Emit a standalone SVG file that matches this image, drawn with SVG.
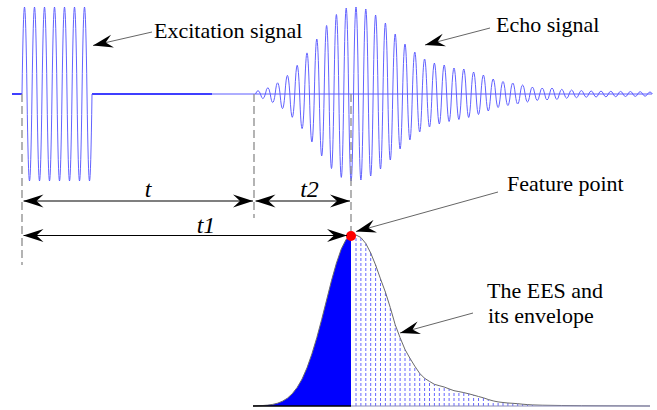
<svg xmlns="http://www.w3.org/2000/svg" width="657" height="410" viewBox="0 0 657 410">
<style>
.lbl{font-size:22px;fill:#000}
.ital{font-size:24px;font-style:italic;fill:#000}
.wave{fill:none;stroke:#5a5aff;stroke-width:0.95}
.base{fill:none;stroke:#0000ff;stroke-width:1.6}
.baselt{fill:none;stroke:#5c5cff;stroke-width:1}
.guide{fill:none;stroke:#8c8c8c;stroke-width:1.3;stroke-dasharray:8 4}
.dim{fill:none;stroke:#000;stroke-width:1.2;marker-start:url(#ah);marker-end:url(#ah)}
.ann{fill:none;stroke:#666;stroke-width:1;marker-end:url(#ah)}
.stem{fill:none;stroke:#6666ff;stroke-width:1;stroke-dasharray:3 2}
</style>
<defs>
<marker id="ah" viewBox="0 0 20 14" refX="20" refY="7" markerWidth="20" markerHeight="14" markerUnits="userSpaceOnUse" orient="auto-start-reverse">
<path d="M20 7L0 0.5L7 7L0 13.5Z" fill="#000"/>
</marker>
</defs>
<rect width="657" height="410" fill="#fff"/>

<g id="excitation-signal">
<path class="base" d="M12 94H22M92 94H212"/>
<path class="wave" d="M22 94q2.5 -174 5 0t5 0t5 0t5 0t5 0t5 0t5 0t5 0t5 0t5 0t5 0t5 0t5 0t5 0"/>
</g>

<g id="echo-signal">
<path class="baselt" d="M212 94H652"/>
<path class="wave" d="M255.55 94q2.45 -6.6 4.9 0q2.45 9.2 4.9 0q2.45 -12.6 4.9 0q2.45 17 4.9 0q2.45 -22.4 4.9 0q2.45 29.2 4.9 0q2.45 -37.2 4.9 0q2.45 46.6 4.9 0q2.45 -57.4 4.9 0q2.45 69.2 4.9 0q2.45 -82.2 4.9 0q2.45 96 4.9 0q2.45 -110 4.9 0q2.45 123.8 4.9 0q2.45 -137 4.9 0q2.45 149 4.9 0q2.45 -159 4.9 0q2.45 166.8 4.9 0q2.45 -171.8 4.9 0q2.45 174 4.9 0q2.45 -174 4.9 0q2.45 172 4.9 0q2.45 -170 4.9 0q2.45 164 4.9 0q2.45 -158 4.9 0q2.45 150 4.9 0q2.45 -142 4.9 0q2.45 132 4.9 0q2.45 -120 4.9 0q2.45 110 4.9 0q2.45 -100 4.9 0q2.45 92 4.9 0q2.45 -84 4.9 0q2.45 76 4.9 0q2.45 -70 4.9 0q2.45 66 4.9 0q2.45 -62 4.9 0q2.45 60 4.9 0q2.45 -58 4.9 0q2.45 55 4.9 0q2.45 -52 4.9 0q2.45 51 4.9 0q2.45 -50 4.9 0q2.45 47 4.9 0q2.45 -44 4.9 0q2.45 41 4.9 0q2.45 -38 4.9 0q2.45 34 4.9 0q2.45 -30 4.9 0q2.45 27 4.9 0q2.45 -25 4.9 0q2.45 23 4.9 0q2.45 -22 4.9 0q2.45 20 4.9 0q2.45 -18 4.9 0q2.45 16 4.9 0q2.45 -14 4.9 0q2.45 13 4.9 0q2.45 -12 4.9 0q2.45 12 4.9 0q2.45 -12 4.9 0q2.45 11 4.9 0q2.45 -9.4 4.9 0q2.45 8.6 4.9 0q2.45 -8 4.9 0q2.45 7.4 4.9 0q2.45 -6.8 4.9 0q2.45 6.4 4.9 0q2.45 -6 4.9 0q2.45 6 4.9 0q2.45 -5.8 4.9 0q2.45 5.6 4.9 0q2.45 -5.4 4.9 0q2.45 5.4 4.9 0q2.45 -5.2 4.9 0q2.45 5 4.9 0q2.45 -5 4.9 0q2.45 4.8 4.9 0q2.45 -4.6 4.9 0q2.45 4.4 4.9 0q2.45 -4 4.9 0"/>
</g>

<g id="ees-envelope">
<path class="stem" d="M356 406V235M360.9 406V237.5M365.8 406V243.5M370.7 406V253M375.6 406V265M380.5 406V278.9M385.4 406V292.1M390.3 406V307.6M395.2 406V324.7M400.1 406V337.7M405 406V349.5M409.9 406V358.2M414.8 406V366.2M419.7 406V373.4M424.6 406V378.3M429.5 406V381.4M434.4 406V384.3M439.3 406V385.7M444.2 406V387M449.1 406V388.9M454 406V390.7M458.9 406V391.3M463.8 406V391.9M468.7 406V393.5M473.6 406V395.1M478.5 406V396.5M483.4 406V397.8M488.3 406V399.5M493.2 406V400.9M498.1 406V401.9M503 406V402.5M507.9 406V403M512.8 406V403.3M517.7 406V403.7M522.6 406V404.2M527.5 406V404.6M532.4 406V404.9"/>
<path d="M253 406L258 405.75L262.9 405.5L267.8 405.1L272.7 404.4L277.6 403.2L282.5 401.2L287.4 398.2L292.3 393.7L297.2 387.4L302.1 379L307 367.8L311.9 353.9L316.8 337.7L321.7 319.4L326.6 300L331.5 280.6L336.4 263.2L341.3 248.9L346.2 239.3L351 235.2L351 406Z" fill="#0000ff"/>
<path d="M253 406L258 405.75L262.9 405.5L267.8 405.1L272.7 404.4L277.6 403.2L282.5 401.2L287.4 398.2L292.3 393.7L297.2 387.4L302.1 379L307 367.8L311.9 353.9L316.8 337.7L321.7 319.4L326.6 300L331.5 280.6L336.4 263.2L341.3 248.9L346.2 239.3L351 235.2L356 235L360.9 237.5L365.8 243.5L370.7 253L375.6 265L380.5 278.9L385.4 292.1L390.3 307.6L395.2 324.7L400.1 337.7L405 349.5L409.9 358.2L414.8 366.2L419.7 373.4L424.6 378.3L429.5 381.4L434.4 384.3L439.3 385.7L444.2 387L449.1 388.9L454 390.7L458.9 391.6L463.8 392.6L468.7 393.8L473.6 395.1L478.5 396.5L483.4 397.8L488.3 399.5L493.2 400.9L498.1 401.9L503 402.5L507.9 403L512.8 403.3L517.7 403.7L522.6 404.2L527.5 404.6L532.4 404.9L542.2 405.2L561.8 405.5L581.4 405.7L601 405.8L650 406" fill="none" stroke="#6a6a6a" stroke-width="1"/>
<path d="M253 406H351" stroke="#000" stroke-width="1.6"/>
<path d="M351 406H650" stroke="#8a8ab8" stroke-width="1"/>
</g>

<g id="feature-point">
<circle cx="351" cy="236" r="5" fill="#ff0000"/>
</g>

<g id="connectors">
<path class="guide" d="M22 94V265M254 94V218M351 94V231"/>
<path class="dim" d="M23.5 201H253"/>
<path class="dim" d="M255.5 201H350"/>
<path class="dim" d="M23.5 235.5H347"/>
<path class="ann" d="M152 32L93 45.5"/>
<path class="ann" d="M490 28L425 45"/>
<path class="ann" d="M498 192L356 231.5"/>
<path class="ann" d="M473 313L400 333"/>
</g>

<g id="labels" font-family="'Liberation Serif', 'DejaVu Serif', serif">
<text class="lbl" x="154" y="38">Excitation signal</text>
<text class="lbl" x="496" y="31.5">Echo signal</text>
<text class="lbl" x="507" y="190.5">Feature point</text>
<text class="lbl" x="487" y="298">The EES and</text>
<text class="lbl" x="488" y="323">its envelope</text>
<text class="ital" x="148" y="197" text-anchor="middle">t</text>
<text class="ital" x="309.5" y="197" text-anchor="middle">t2</text>
<text class="ital" x="206" y="233" text-anchor="middle">t1</text>
</g>
</svg>
